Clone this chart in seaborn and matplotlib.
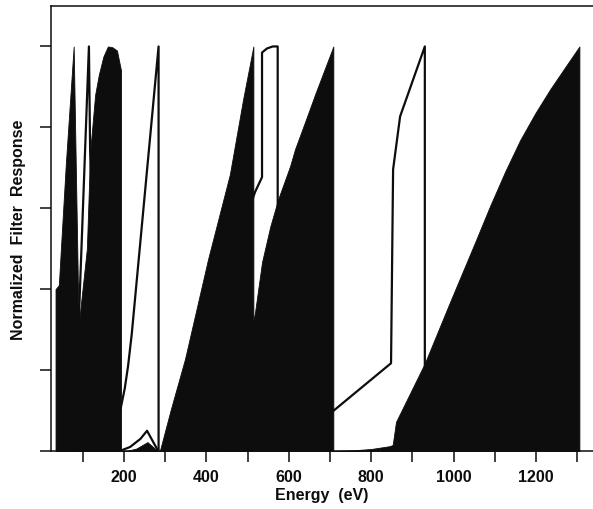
import matplotlib
matplotlib.use("Agg")
import matplotlib.pyplot as plt
import seaborn as sns

# ── Data (energy in eV, normalised response) ─────────────────────────────────
# filled channels
fill_a_e = [34, 34, 42, 47, 59, 78, 90, 100, 120, 150, 192]
fill_a_r = [0.0, 0.40, 0.41, 0.50, 0.71, 1.0, 0.31, 0.12, 0.04, 0.01, 0.0]

fill_b_e = [90, 90, 110, 118, 130, 139, 150, 161, 172, 183, 193, 193,
            205, 230, 257, 282]
fill_b_r = [0.0, 0.31, 0.50, 0.74, 0.88, 0.93, 0.975, 1.0, 0.998, 0.99, 0.94,
            0.0, 0.0, 0.006, 0.022, 0.0]

fill_c_e = [284, 287, 314, 348, 404, 457, 489, 514, 514]
fill_c_r = [0.0, 0.0, 0.104, 0.227, 0.474, 0.684, 0.869, 1.0, 0.0]

fill_d_e = [440, 480, 518, 535, 555, 574, 603, 615, 640, 665, 708, 708]
fill_d_r = [0.0, 0.15, 0.343, 0.467, 0.555, 0.622, 0.704, 0.746, 0.815,
            0.885, 1.0, 0.0]

fill_e_e = [708, 760, 800, 845, 852, 860, 930, 991, 1052, 1088, 1125, 1161,
            1198, 1234, 1270, 1305, 1305]
fill_e_r = [0.0, 0.002, 0.005, 0.012, 0.015, 0.072, 0.217, 0.368, 0.516,
            0.605, 0.691, 0.768, 0.835, 0.894, 0.948, 1.0, 0.0]

# outlined channels
line_a_e = [80, 90, 115, 118, 125, 150, 190, 215, 240, 256, 283]
line_a_r = [0.0, 0.31, 1.0, 0.74, 0.50, 0.10, 0.0, 0.01, 0.03, 0.05, 0.0]

line_b_e = [150, 180, 193, 202, 210, 219, 284, 284]
line_b_r = [0.0, 0.05, 0.11, 0.155, 0.21, 0.29, 1.0, 0.0]

line_c_e = [420, 470, 518, 535, 535, 547, 561, 573, 573]
line_c_r = [0.30, 0.50, 0.64, 0.677, 0.985, 0.995, 1.0, 1.0, 0.0]

line_d_e = [650, 709, 848, 853, 870, 930, 930]
line_d_r = [0.05, 0.10, 0.217, 0.696, 0.827, 1.0, 0.0]

x_ticks = list(range(100, 1400, 100))
x_labels = [str(t) if t % 200 == 0 else "" for t in x_ticks]
y_ticks = [0.0, 0.2, 0.4, 0.6, 0.8, 1.0]

INK = "#0d0d0d"

# ── Style ─────────────────────────────────────────────────────────────────────
sns.set_style("ticks")
plt.rcParams["font.family"] = ["Liberation Sans", "DejaVu Sans"]
plt.rcParams["font.weight"] = "bold"
plt.rcParams["text.color"] = INK
plt.rcParams["axes.labelcolor"] = INK

fig = plt.figure(figsize=(5.93, 5.10), dpi=100)
ax = fig.add_axes([51 / 593, 1 - 452 / 510, (593 - 51) / 593, 445 / 510])

# ── Plot ──────────────────────────────────────────────────────────────────────
for e, r in [(fill_a_e, fill_a_r), (fill_b_e, fill_b_r), (fill_c_e, fill_c_r),
             (fill_d_e, fill_d_r), (fill_e_e, fill_e_r)]:
    ax.fill_between(e, 0, r, color=INK, lw=0.6, edgecolor=INK)

for e, r in [(line_a_e, line_a_r), (line_b_e, line_b_r),
             (line_c_e, line_c_r), (line_d_e, line_d_r)]:
    sns.lineplot(x=e, y=r, sort=False, estimator=None, color=INK, lw=1.6,
                 ax=ax)

ax.set_xlim(23, 1338)
ax.set_ylim(0, 1.1)
ax.set_xticks(x_ticks)
ax.set_xticklabels(x_labels, fontsize=11.5, fontweight="bold")
ax.set_yticks(y_ticks)
ax.set_yticklabels([])
ax.tick_params(direction="out", length=8, width=1.1, color=INK,
               labelcolor=INK, pad=5)

ax.set_xlabel("Energy  (eV)", fontsize=11.5, fontweight="bold", labelpad=2)
ax.set_ylabel("Normalized  Filter  Response", fontsize=11.5,
              fontweight="bold")
ax.yaxis.set_label_coords(-0.047, 0.5)

for side in ["left", "top", "bottom"]:
    ax.spines[side].set_linewidth(1.1)
    ax.spines[side].set_color(INK)
ax.spines["right"].set_visible(False)

fig.savefig("out.png", dpi=100)
plt.close(fig)
